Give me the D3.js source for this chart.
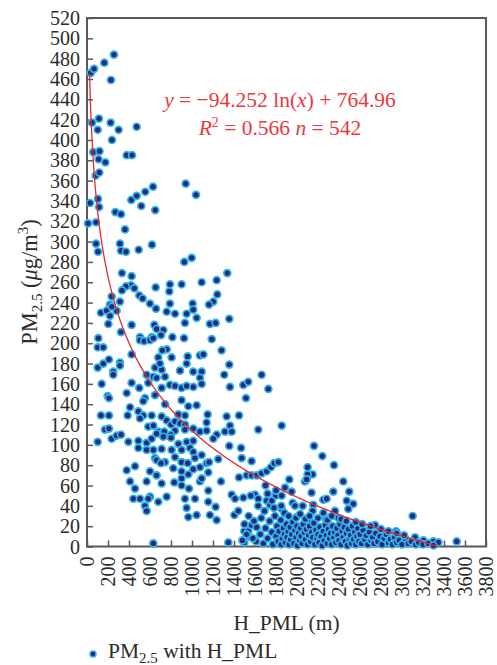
<!DOCTYPE html>
<html><head><meta charset="utf-8">
<script src="https://cdn.jsdelivr.net/npm/d3@7"></script>
<style>
html,body{margin:0;padding:0;background:#fff;}
svg text{font-family:"Liberation Serif","Times New Roman",serif;}
</style></head>
<body><svg id="chart" width="497" height="665"></svg>
<script>
// Tick labels
const xTicks = [0,200,400,600,800,1000,1200,1400,1600,1800,2000,2200,2400,2600,2800,3000,3200,3400,3600,3800];
const yTicks = [0,20,40,60,80,100,120,140,160,180,200,220,240,260,280,300,320,340,360,380,400,420,440,460,480,500,520];
// Fit: y = a ln(x) + b
const fitA = -94.252, fitB = 764.96;
// Points [H_PML, PM2.5]
const ptsHigh = [[35,466],[67,470],[165,476],[257,484],[228,459],[48,417],[114,421],[102,410],[225,417],[301,410],[238,400],[473,413],[60,388],[119,389],[110,381],[175,378],[378,385],[429,385],[83,365],[117,368],[29,338],[105,342],[115,334],[10,318],[86,319],[270,329],[324,327],[362,312],[422,341],[473,345],[517,335],[555,349],[629,354],[650,331],[86,298],[105,290],[314,298],[324,291],[371,290],[492,292],[619,297],[333,269],[425,266],[419,257],[451,254],[371,256],[333,252],[235,246],[498,247],[530,244],[654,255],[940,357],[1038,346]];
const ptsUpperMid = [[927,280],[997,284],[1336,269],[790,258],[901,258],[1092,260],[1235,262],[784,251],[1241,248],[219,238],[314,241],[600,239],[790,239],[1006,239],[1203,241],[1162,238],[657,234],[133,230],[187,232],[219,227],[282,232],[759,231],[838,229],[949,229],[1012,233],[1044,225],[1355,224],[203,219],[425,218],[641,218],[663,214],[727,213],[933,220],[1171,219],[1225,220],[324,211],[705,208],[108,205],[505,206],[616,206],[813,206],[924,205],[1188,204],[235,236]];
const ptsMid = [[505,203],[545,202],[600,203],[632,205],[102,196],[155,196],[425,189],[759,194],[717,193],[1282,193],[679,186],[806,186],[959,187],[1076,188],[1108,189],[102,176],[155,180],[209,184],[314,181],[314,178],[250,172],[250,169],[648,176],[711,174],[695,180],[886,173],[949,180],[1012,172],[1092,172],[1076,166],[1355,179],[1307,169],[1663,169],[568,169],[632,167],[663,166],[743,167],[140,160],[425,161],[498,156],[584,161],[711,156],[790,159],[838,158],[901,156],[949,158],[1012,157],[1092,160],[1362,157],[1489,159],[1536,162],[1727,155],[378,151],[197,148],[209,146],[552,146],[536,143],[648,149],[901,144],[1514,146],[410,137],[743,140],[965,138],[1044,139],[489,133],[133,129],[209,129],[387,129],[536,129],[616,129],[711,128],[759,124],[870,130],[933,129],[1149,130],[1330,128],[1448,129],[505,126],[800,120],[838,123],[886,121],[933,120],[1139,122],[1362,119],[1631,115],[1854,119],[171,115],[209,116],[584,118],[632,119],[679,113],[736,113],[838,114],[800,110],[933,115],[1012,116],[1076,113],[1139,114],[1235,110],[1203,106],[1314,113],[1378,113]];
const ptsLowMid = [[102,103],[235,106],[282,109],[324,110],[394,103],[489,104],[568,102],[616,106],[663,111],[727,108],[800,107],[870,101],[949,103],[1012,104],[1355,99],[1467,97],[489,97],[568,95],[632,95],[711,96],[806,95],[901,95],[981,97],[1012,93],[648,87],[663,85],[743,83],[838,88],[901,83],[959,82],[1028,87],[1092,90],[1139,82],[1162,83],[1250,86],[1473,87],[1568,84],[378,75],[457,79],[600,74],[663,70],[705,82],[822,77],[901,74],[965,71],[1012,76],[1076,78],[1155,73],[1276,64],[1448,68],[1521,70],[1568,70],[1616,70],[1663,72],[1711,74],[1752,78],[1784,82],[1822,83],[410,64],[457,57],[568,64],[711,62],[831,63],[901,67],[901,60],[971,57],[1076,64],[1155,55],[1092,67],[1378,51],[1410,47],[1489,48],[1600,51],[1631,47],[1711,45],[1743,41],[1797,50],[1854,50],[441,47],[505,47],[600,49],[584,47],[679,44],[759,49],[933,47],[949,38],[1028,47],[1155,44],[1171,31],[1225,39],[1235,26],[552,40],[568,35],[965,29],[1044,31],[1403,31],[1441,35],[632,3],[1346,4],[1498,15],[1536,15],[1530,10],[1498,4],[1568,21],[1616,19]];
const ptsRight = [[2162,99],[2241,89],[2352,80],[2101,78],[2149,71],[2101,71],[2076,64],[2092,66],[1927,66],[2441,64],[1886,58],[1949,54],[2139,53],[2346,54],[2498,54],[2251,46],[2282,47],[2473,45],[2536,42],[1959,43],[1981,40],[2054,40],[2155,41],[1854,37],[2489,37],[2149,35],[2362,35],[2251,33],[1997,29],[2276,27],[2393,28],[3101,30],[2108,24],[2743,21],[2943,15],[3124,9],[3203,6],[3298,5],[3346,4],[3521,5]];
const ptsCluster = [[1610,5],[1650,12],[1680,3],[1700,18],[1720,8],[1740,25],[1760,14],[1770,2],[1790,30],[1800,10],[1810,20],[1820,5],[1830,15],[1845,26],[1850,2],[1860,8],[1870,18],[1880,12],[1890,4],[1900,22],[1905,9],[1915,15],[1925,2],[1935,19],[1940,7],[1950,12],[1960,24],[1970,3],[1980,16],[1990,9],[2000,20],[2005,1],[2015,13],[2025,6],[2035,18],[2040,10],[2050,3],[2060,22],[2070,14],[2080,7],[2090,17],[2100,2],[2110,11],[2120,20],[2130,5],[2140,14],[2150,9],[2160,23],[2170,2],[2180,16],[2190,8],[2200,12],[2210,4],[2220,19],[2230,10],[2240,1],[2250,15],[2260,6],[2270,21],[2280,11],[2290,3],[2300,17],[2310,8],[2320,13],[2330,2],[2340,20],[2350,9],[2360,14],[2370,4],[2380,18],[2390,11],[2400,6],[2410,22],[2420,2],[2430,15],[2440,9],[2450,19],[2460,5],[2470,13],[2480,1],[2490,17],[2500,8],[2510,11],[2520,3],[2530,20],[2540,7],[2550,14],[2560,2],[2570,10],[2580,18],[2590,5],[2600,12],[2615,3],[2630,16],[2645,7],[2660,11],[2675,2],[2690,14],[2705,6],[2720,9],[2735,3],[2750,13],[2770,5],[2790,10],[2810,2],[2830,8],[2850,12],[2870,4],[2890,7],[2910,2],[2930,9],[2950,4],[2975,6],[3000,2],[3030,8],[3060,3],[3090,5],[3130,2],[3160,4],[3200,2],[3250,3],[3300,1]];
const ptsCluster2 = [[1850,40],[1880,33],[1920,30],[1990,28],[2030,32],[2080,27],[2120,30],[2200,28],[2290,26],[2330,30],[2420,27],[2470,25],[2560,24],[2620,22],[2700,20],[2800,17],[2870,15],[2950,13],[3020,11],[1760,45],[1720,52],[1700,60],[1780,38],[1800,55],[1690,35],[1660,28],[1630,40],[1590,25],[1580,8],[1560,50],[1540,30],[1520,12],[1500,22],[1480,6]];

const allPts = [].concat(ptsHigh, ptsUpperMid, ptsMid, ptsLowMid, ptsRight, ptsCluster, ptsCluster2);

const svg = d3.select('#chart');
const L = 87, R = 486, T = 18, B = 546.5;
const x = d3.scaleLinear().domain([0,3800]).range([L,R]);
const y = d3.scaleLinear().domain([0,520]).range([B,T]);
const axisCol = '#595959', textCol = '#2b2b2b';

// frame
svg.append('rect').attr('x',L).attr('y',T).attr('width',R-L).attr('height',B-T)
  .attr('fill','none').attr('stroke',axisCol).attr('stroke-width',2);

// y axis
const ya = svg.append('g').attr('transform',`translate(${L},0)`)
  .call(d3.axisLeft(y).tickValues(yTicks).tickSize(-6).tickPadding(8).tickFormat(d3.format('d')));
ya.select('.domain').remove();
ya.selectAll('line').attr('stroke',axisCol).attr('stroke-width',1.5);
ya.selectAll('text').attr('font-size',20).attr('fill',textCol).attr('x',-7).attr('dy','0.33em');

// x axis
const xa = svg.append('g').attr('transform',`translate(0,${B})`)
  .call(d3.axisBottom(x).tickValues(xTicks).tickSize(-6).tickFormat(d3.format('d')));
xa.select('.domain').remove();
xa.selectAll('line').attr('stroke',axisCol).attr('stroke-width',1.5);
xa.selectAll('text').attr('font-size',20).attr('fill',textCol)
  .attr('text-anchor','end').attr('transform','rotate(-90)')
  .attr('x',-10).attr('y',0).attr('dy','0.33em');

// points
svg.append('g').selectAll('circle').data(allPts).join('circle')
  .attr('cx',d=>x(d[0])).attr('cy',d=>y(d[1])).attr('r',3.5)
  .attr('fill','#2b2a7a').attr('stroke','#2fb5ea').attr('stroke-width',1.7);

// fit curve
const xs = d3.range(24,3350,8);
svg.append('path').datum(xs)
  .attr('d',d3.line().x(d=>x(d)).y(d=>y(fitA*Math.log(d)+fitB)))
  .attr('fill','none').attr('stroke','#e52b2f').attr('stroke-width',1.3);

// equation
const eq = svg.append('text').attr('x',280).attr('y',107).attr('text-anchor','middle')
  .attr('font-size',21.5).attr('fill','#e83a3e');
eq.append('tspan').attr('font-style','italic').text('y');
eq.append('tspan').text(' = \u221294.252 ln(');
eq.append('tspan').attr('font-style','italic').text('x');
eq.append('tspan').text(') + 764.96');
const eq2 = svg.append('text').attr('x',280).attr('y',135).attr('text-anchor','middle')
  .attr('font-size',21.5).attr('fill','#e83a3e');
eq2.append('tspan').attr('font-style','italic').text('R');
eq2.append('tspan').attr('font-size',14).attr('dy',-8).text('2');
eq2.append('tspan').attr('dy',8).text(' = 0.566 ');
eq2.append('tspan').attr('font-style','italic').text('n');
eq2.append('tspan').text(' = 542');

// axis titles
const yt = svg.append('text').attr('transform','translate(37,282) rotate(-90)')
  .attr('text-anchor','middle').attr('font-size',22.5).attr('fill',textCol);
yt.append('tspan').text('PM');
yt.append('tspan').attr('font-size',15).attr('dy',5).text('2.5');
yt.append('tspan').attr('dy',-5).text(' (');
yt.append('tspan').attr('font-style','italic').text('\u03bc');
yt.append('tspan').text('g/m');
yt.append('tspan').attr('font-size',15).attr('dy',-9).text('3');
yt.append('tspan').attr('dy',9).text(')');

svg.append('text').attr('x',286.5).attr('y',630).attr('text-anchor','middle')
  .attr('font-size',21.5).attr('fill',textCol).text('H_PML (m)');

// legend
svg.append('circle').attr('cx',93).attr('cy',654).attr('r',3)
  .attr('fill','#2b2a7a').attr('stroke','#2fb5ea').attr('stroke-width',1.5);
const lg = svg.append('text').attr('x',108).attr('y',658).attr('font-size',21.5).attr('fill',textCol);
lg.append('tspan').text('PM');
lg.append('tspan').attr('font-size',15).attr('dy',5).text('2.5');
lg.append('tspan').attr('dy',-5).text(' with H_PML');
</script></body></html>
